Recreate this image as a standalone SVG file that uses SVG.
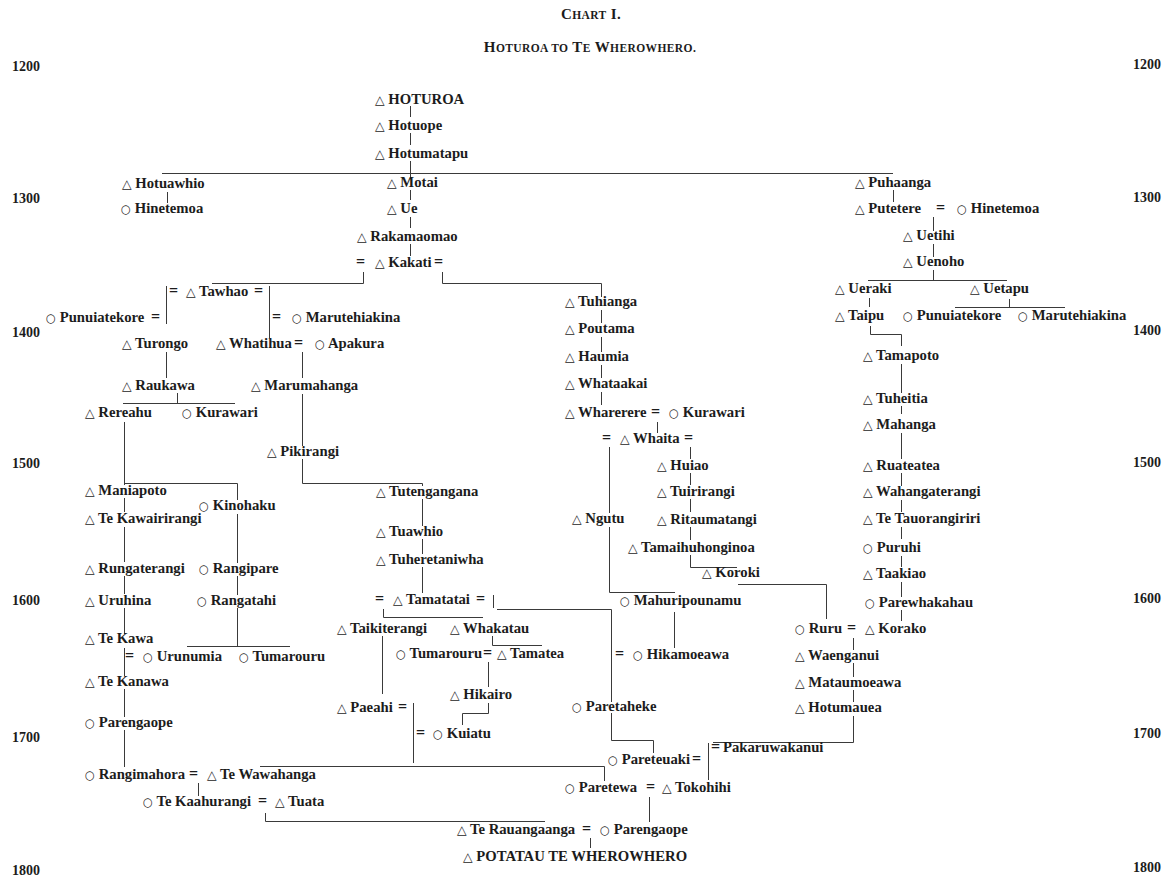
<svg xmlns="http://www.w3.org/2000/svg" width="1169" height="880" viewBox="0 0 1169 880">
<style>
  .n{font-family:"Liberation Serif","DejaVu Serif",serif;font-weight:bold;font-size:14.7px;fill:#1c1c1c}
  .s{font-family:"DejaVu Sans",sans-serif;font-weight:normal;font-size:12.5px}
  .c{font-family:"DejaVu Sans",sans-serif;font-weight:normal;font-size:11.5px}
  .eq{font-family:"Liberation Serif",serif;font-weight:bold;font-size:16px;fill:#1c1c1c}
  .yr{font-family:"Liberation Serif",serif;font-weight:bold;font-size:14px;fill:#1c1c1c}
  .ttl{font-family:"Liberation Serif",serif;font-weight:bold;fill:#1c1c1c;letter-spacing:0.4px}
  .big{font-size:15px}
  .sm{font-size:11.5px}
  .ln{fill:none;stroke:#3a3a3a;stroke-width:1}
</style>
<rect width="1169" height="880" fill="#fff"/>

<!-- heading -->
<g id="title">
  <text class="ttl" x="591" y="19" text-anchor="middle"><tspan class="big">C</tspan><tspan class="sm">HART</tspan><tspan class="big"> I.</tspan></text>
  <text class="ttl" x="590" y="52" text-anchor="middle"><tspan class="big">H</tspan><tspan class="sm">OTUROA TO</tspan><tspan class="big"> T</tspan><tspan class="sm">E</tspan><tspan class="big"> W</tspan><tspan class="sm">HEROWHERO.</tspan></text>
</g>

<!-- century scale on both margins -->
<g id="years">
  <text class="yr" x="12" y="71">1200</text>
  <text class="yr" x="12" y="203">1300</text>
  <text class="yr" x="12" y="337">1400</text>
  <text class="yr" x="12" y="468">1500</text>
  <text class="yr" x="12" y="605">1600</text>
  <text class="yr" x="12" y="742">1700</text>
  <text class="yr" x="12" y="875">1800</text>
  <text class="yr" x="1133" y="69">1200</text>
  <text class="yr" x="1133" y="202">1300</text>
  <text class="yr" x="1133" y="335">1400</text>
  <text class="yr" x="1133" y="467">1500</text>
  <text class="yr" x="1133" y="603">1600</text>
  <text class="yr" x="1133" y="738">1700</text>
  <text class="yr" x="1133" y="872">1800</text>
</g>

<!-- descent lines and marriage signs -->
<g id="connectors">
  <path class="ln" d="
    M410.5 106V117 M410.5 133V145 M410.5 161V178 M410.5 190V200 M410.5 217V228 M410.5 244V256
    M162 173.5H893
    M167.5 192V203
    M363.5 272V283.5H212
    M442.5 272V283.5H601.5V297
    M166.5 286V324 M166.5 352V378
    M269.5 286V338
    M177.5 393V403.5 M123 403.5H235
    M124.5 422V485 M124.5 498V512 M124.5 527V562 M124.5 576V594 M124.5 608V634 M124.5 648V676 M124.5 689V717 M124.5 730V767
    M124.5 483.5H237.5V500 M237.5 514V563 M237.5 576V595 M237.5 608V646.5 M187 646.5H290
    M302.5 352V378 M302.5 394V446 M302.5 459V483.5H422.5V486 M422.5 499V526 M422.5 539V554 M422.5 567V593
    M383.5 609V617.5H483
    M382.5 636V694
    M492.5 636V645.5H542
    M488.5 662V687 M488.5 703V713.5H462.5V725
    M413.5 703V763
    M493.5 595V608
    M260 766.5H604.5V781
    M497 609.5H611.5V702 M611.5 713V740.5H653.5V753
    M601.5 310V323 M601.5 337V352 M601.5 365V378 M601.5 392V405
    M657.5 422V433
    M609.5 447V513 M609.5 527V592.5H675
    M690.5 447V459 M690.5 473V485 M690.5 499V512 M690.5 527V540 M690.5 555V567.5H737
    M674.5 612V648
    M738 584.5H826.5V619
    M708.5 743V780
    M713 742.5H853.5V716
    M649.5 797V822
    M265.5 813V821.5H545
    M590.5 838V848
    M198.5 783V796
    M893.5 190V202
    M933.5 217V231 M933.5 244V257 M933.5 270V280.5 M868 280.5H1007
    M869.5 298V307
    M1009.5 299V307.5 M955 307.5H1065
    M870.5 326V334.5H901.5V346
    M901.5 364V393 M901.5 406V414 M901.5 433V459 M901.5 473V486 M901.5 500V512 M901.5 527V539 M901.5 556V567 M901.5 582V597 M901.5 610V621
    M853.5 638V650 M853.5 663V677 M853.5 690V702 M853.5 716V742"/>
  <g id="marriages">
    <text class="eq" x="356" y="267">=</text>
    <text class="eq" x="434" y="267">=</text>
    <text class="eq" x="169" y="296">=</text>
    <text class="eq" x="254" y="296">=</text>
    <text class="eq" x="151" y="322">=</text>
    <text class="eq" x="272" y="322">=</text>
    <text class="eq" x="294" y="348">=</text>
    <text class="eq" x="125" y="661">=</text>
    <text class="eq" x="189" y="779">=</text>
    <text class="eq" x="258" y="806">=</text>
    <text class="eq" x="651" y="417">=</text>
    <text class="eq" x="602" y="443">=</text>
    <text class="eq" x="684" y="443">=</text>
    <text class="eq" x="375" y="604">=</text>
    <text class="eq" x="476" y="604">=</text>
    <text class="eq" x="483" y="658">=</text>
    <text class="eq" x="615" y="659">=</text>
    <text class="eq" x="398" y="712">=</text>
    <text class="eq" x="416" y="738">=</text>
    <text class="eq" x="692" y="764">=</text>
    <text class="eq" x="711" y="752">=</text>
    <text class="eq" x="646" y="792">=</text>
    <text class="eq" x="582" y="834">=</text>
    <text class="eq" x="936" y="213">=</text>
    <text class="eq" x="847" y="633">=</text>
  </g>
</g>

<!-- persons: triangle = male, circle = female -->
<g id="n-hoturoa"><text class="n" x="375" y="104"><tspan class="s">△</tspan> HOTUROA</text></g>
<g id="n-hotuope"><text class="n" x="375" y="130"><tspan class="s">△</tspan> Hotuope</text></g>
<g id="n-hotumatapu"><text class="n" x="375" y="158"><tspan class="s">△</tspan> Hotumatapu</text></g>
<g id="n-hotuawhio"><text class="n" x="122" y="188"><tspan class="s">△</tspan> Hotuawhio</text></g>
<g id="n-hinetemoa-a"><text class="n" x="121" y="213"><tspan class="c">○</tspan> Hinetemoa</text></g>
<g id="n-motai"><text class="n" x="387" y="187"><tspan class="s">△</tspan> Motai</text></g>
<g id="n-ue"><text class="n" x="387" y="213"><tspan class="s">△</tspan> Ue</text></g>
<g id="n-rakamaomao"><text class="n" x="357" y="241"><tspan class="s">△</tspan> Rakamaomao</text></g>
<g id="n-kakati"><text class="n" x="375" y="267"><tspan class="s">△</tspan> Kakati</text></g>
<g id="n-tawhao"><text class="n" x="186" y="296"><tspan class="s">△</tspan> Tawhao</text></g>
<g id="n-punuiatekore-a"><text class="n" x="46" y="322"><tspan class="c">○</tspan> Punuiatekore</text></g>
<g id="n-marutehiakina-a"><text class="n" x="292" y="322"><tspan class="c">○</tspan> Marutehiakina</text></g>
<g id="n-turongo"><text class="n" x="122" y="348"><tspan class="s">△</tspan> Turongo</text></g>
<g id="n-whatihua"><text class="n" x="216" y="348"><tspan class="s">△</tspan> Whatihua</text></g>
<g id="n-apakura"><text class="n" x="315" y="348"><tspan class="c">○</tspan> Apakura</text></g>
<g id="n-raukawa"><text class="n" x="122" y="390"><tspan class="s">△</tspan> Raukawa</text></g>
<g id="n-marumahanga"><text class="n" x="251" y="390"><tspan class="s">△</tspan> Marumahanga</text></g>
<g id="n-rereahu"><text class="n" x="85" y="417"><tspan class="s">△</tspan> Rereahu</text></g>
<g id="n-kurawari-a"><text class="n" x="182" y="417"><tspan class="c">○</tspan> Kurawari</text></g>
<g id="n-pikirangi"><text class="n" x="267" y="456"><tspan class="s">△</tspan> Pikirangi</text></g>
<g id="n-maniapoto"><text class="n" x="85" y="495"><tspan class="s">△</tspan> Maniapoto</text></g>
<g id="n-kinohaku"><text class="n" x="199" y="510"><tspan class="c">○</tspan> Kinohaku</text></g>
<g id="n-te-kawairirangi"><text class="n" x="85" y="523"><tspan class="s">△</tspan> Te Kawairirangi</text></g>
<g id="n-rungaterangi"><text class="n" x="85" y="573"><tspan class="s">△</tspan> Rungaterangi</text></g>
<g id="n-rangipare"><text class="n" x="199" y="573"><tspan class="c">○</tspan> Rangipare</text></g>
<g id="n-uruhina"><text class="n" x="85" y="605"><tspan class="s">△</tspan> Uruhina</text></g>
<g id="n-rangatahi"><text class="n" x="197" y="605"><tspan class="c">○</tspan> Rangatahi</text></g>
<g id="n-te-kawa"><text class="n" x="85" y="643"><tspan class="s">△</tspan> Te Kawa</text></g>
<g id="n-urunumia"><text class="n" x="143" y="661"><tspan class="c">○</tspan> Urunumia</text></g>
<g id="n-tumarouru-a"><text class="n" x="239" y="661"><tspan class="c">○</tspan> Tumarouru</text></g>
<g id="n-te-kanawa"><text class="n" x="85" y="686"><tspan class="s">△</tspan> Te Kanawa</text></g>
<g id="n-parengaope-a"><text class="n" x="85" y="727"><tspan class="c">○</tspan> Parengaope</text></g>
<g id="n-rangimahora"><text class="n" x="85" y="779"><tspan class="c">○</tspan> Rangimahora</text></g>
<g id="n-te-wawahanga"><text class="n" x="207" y="779"><tspan class="s">△</tspan> Te Wawahanga</text></g>
<g id="n-te-kaahurangi"><text class="n" x="143" y="806"><tspan class="c">○</tspan> Te Kaahurangi</text></g>
<g id="n-tuata"><text class="n" x="275" y="806"><tspan class="s">△</tspan> Tuata</text></g>

<g id="n-tuhianga"><text class="n" x="565" y="306"><tspan class="s">△</tspan> Tuhianga</text></g>
<g id="n-poutama"><text class="n" x="565" y="333"><tspan class="s">△</tspan> Poutama</text></g>
<g id="n-haumia"><text class="n" x="565" y="361"><tspan class="s">△</tspan> Haumia</text></g>
<g id="n-whataakai"><text class="n" x="565" y="388"><tspan class="s">△</tspan> Whataakai</text></g>
<g id="n-wharerere"><text class="n" x="565" y="417"><tspan class="s">△</tspan> Wharerere</text></g>
<g id="n-kurawari-b"><text class="n" x="669" y="417"><tspan class="c">○</tspan> Kurawari</text></g>
<g id="n-whaita"><text class="n" x="620" y="443"><tspan class="s">△</tspan> Whaita</text></g>
<g id="n-huiao"><text class="n" x="657" y="470"><tspan class="s">△</tspan> Huiao</text></g>
<g id="n-tuirirangi"><text class="n" x="657" y="496"><tspan class="s">△</tspan> Tuirirangi</text></g>
<g id="n-ritaumatangi"><text class="n" x="657" y="524"><tspan class="s">△</tspan> Ritaumatangi</text></g>
<g id="n-ngutu"><text class="n" x="572" y="523"><tspan class="s">△</tspan> Ngutu</text></g>
<g id="n-tamaihuhonginoa"><text class="n" x="628" y="552"><tspan class="s">△</tspan> Tamaihuhonginoa</text></g>
<g id="n-koroki"><text class="n" x="702" y="577"><tspan class="s">△</tspan> Koroki</text></g>
<g id="n-tutengangana"><text class="n" x="376" y="496"><tspan class="s">△</tspan> Tutengangana</text></g>
<g id="n-tuawhio"><text class="n" x="376" y="536"><tspan class="s">△</tspan> Tuawhio</text></g>
<g id="n-tuheretaniwha"><text class="n" x="376" y="564"><tspan class="s">△</tspan> Tuheretaniwha</text></g>
<g id="n-tamatatai"><text class="n" x="393" y="604"><tspan class="s">△</tspan> Tamatatai</text></g>
<g id="n-mahuripounamu"><text class="n" x="620" y="605"><tspan class="c">○</tspan> Mahuripounamu</text></g>
<g id="n-taikiterangi"><text class="n" x="337" y="633"><tspan class="s">△</tspan> Taikiterangi</text></g>
<g id="n-whakatau"><text class="n" x="450" y="633"><tspan class="s">△</tspan> Whakatau</text></g>
<g id="n-tumarouru-b"><text class="n" x="396" y="658"><tspan class="c">○</tspan> Tumarouru</text></g>
<g id="n-tamatea"><text class="n" x="497" y="658"><tspan class="s">△</tspan> Tamatea</text></g>
<g id="n-hikamoeawa"><text class="n" x="633" y="659"><tspan class="c">○</tspan> Hikamoeawa</text></g>
<g id="n-hikairo"><text class="n" x="450" y="699"><tspan class="s">△</tspan> Hikairo</text></g>
<g id="n-paeahi"><text class="n" x="337" y="712"><tspan class="s">△</tspan> Paeahi</text></g>
<g id="n-paretaheke"><text class="n" x="572" y="711"><tspan class="c">○</tspan> Paretaheke</text></g>
<g id="n-kuiatu"><text class="n" x="433" y="738"><tspan class="c">○</tspan> Kuiatu</text></g>
<g id="n-pareteuaki"><text class="n" x="608" y="764"><tspan class="c">○</tspan> Pareteuaki</text></g>
<g id="n-pakaruwakanui"><text class="n" x="723" y="752">Pakaruwakanui</text></g>
<g id="n-paretewa"><text class="n" x="565" y="792"><tspan class="c">○</tspan> Paretewa</text></g>
<g id="n-tokohihi"><text class="n" x="662" y="792"><tspan class="s">△</tspan> Tokohihi</text></g>
<g id="n-te-rauangaanga"><text class="n" x="457" y="834"><tspan class="s">△</tspan> Te Rauangaanga</text></g>
<g id="n-parengaope-b"><text class="n" x="600" y="834"><tspan class="c">○</tspan> Parengaope</text></g>
<g id="n-potatau"><text class="n" x="463" y="861"><tspan class="s">△</tspan> POTATAU TE WHEROWHERO</text></g>

<g id="n-puhaanga"><text class="n" x="855" y="187"><tspan class="s">△</tspan> Puhaanga</text></g>
<g id="n-putetere"><text class="n" x="855" y="213"><tspan class="s">△</tspan> Putetere</text></g>
<g id="n-hinetemoa-b"><text class="n" x="957" y="213"><tspan class="c">○</tspan> Hinetemoa</text></g>
<g id="n-uetihi"><text class="n" x="903" y="240"><tspan class="s">△</tspan> Uetihi</text></g>
<g id="n-uenoho"><text class="n" x="903" y="266"><tspan class="s">△</tspan> Uenoho</text></g>
<g id="n-ueraki"><text class="n" x="835" y="293"><tspan class="s">△</tspan> Ueraki</text></g>
<g id="n-uetapu"><text class="n" x="970" y="293"><tspan class="s">△</tspan> Uetapu</text></g>
<g id="n-taipu"><text class="n" x="835" y="320"><tspan class="s">△</tspan> Taipu</text></g>
<g id="n-punuiatekore-b"><text class="n" x="903" y="320"><tspan class="c">○</tspan> Punuiatekore</text></g>
<g id="n-marutehiakina-b"><text class="n" x="1018" y="320"><tspan class="c">○</tspan> Marutehiakina</text></g>
<g id="n-tamapoto"><text class="n" x="863" y="360"><tspan class="s">△</tspan> Tamapoto</text></g>
<g id="n-tuheitia"><text class="n" x="863" y="403"><tspan class="s">△</tspan> Tuheitia</text></g>
<g id="n-mahanga"><text class="n" x="863" y="429"><tspan class="s">△</tspan> Mahanga</text></g>
<g id="n-ruateatea"><text class="n" x="863" y="470"><tspan class="s">△</tspan> Ruateatea</text></g>
<g id="n-wahangaterangi"><text class="n" x="863" y="496"><tspan class="s">△</tspan> Wahangaterangi</text></g>
<g id="n-te-tauorangiriri"><text class="n" x="863" y="523"><tspan class="s">△</tspan> Te Tauorangiriri</text></g>
<g id="n-puruhi"><text class="n" x="863" y="552"><tspan class="c">○</tspan> Puruhi</text></g>
<g id="n-taakiao"><text class="n" x="863" y="578"><tspan class="s">△</tspan> Taakiao</text></g>
<g id="n-parewhakahau"><text class="n" x="865" y="607"><tspan class="c">○</tspan> Parewhakahau</text></g>
<g id="n-ruru"><text class="n" x="795" y="633"><tspan class="c">○</tspan> Ruru</text></g>
<g id="n-korako"><text class="n" x="865" y="633"><tspan class="s">△</tspan> Korako</text></g>
<g id="n-waenganui"><text class="n" x="795" y="660"><tspan class="s">△</tspan> Waenganui</text></g>
<g id="n-mataumoeawa"><text class="n" x="795" y="687"><tspan class="s">△</tspan> Mataumoeawa</text></g>
<g id="n-hotumauea"><text class="n" x="795" y="712"><tspan class="s">△</tspan> Hotumauea</text></g>
</svg>
